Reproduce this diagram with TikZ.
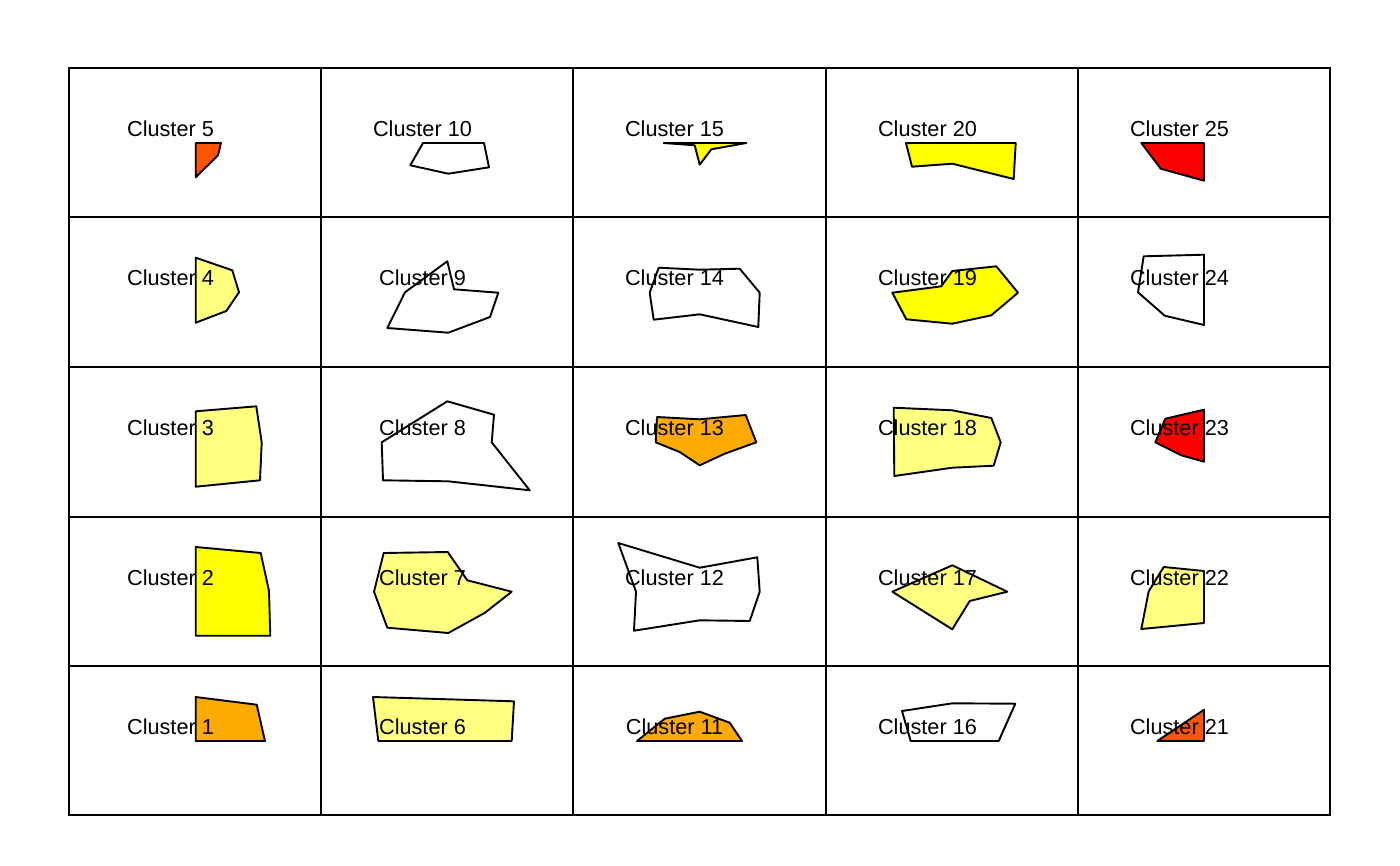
\documentclass[tikz,border=0pt]{standalone}
\usepackage{fontspec}
\setmainfont{Liberation Sans}
\definecolor{cRed}{HTML}{FF0000}
\definecolor{cRedOr}{HTML}{FF5500}
\definecolor{cOrange}{HTML}{FFAA00}
\definecolor{cYellow}{HTML}{FFFF00}
\definecolor{cLight}{HTML}{FFFF80}
\begin{document}
\begin{tikzpicture}[x=1pt,y=-1pt,
  gridline/.style={draw=black,line width=2pt},
  poly/.style={draw=black,line width=1.9pt,line join=round},
  lbl/.style={anchor=base,inner sep=0pt,font=\fontsize{21.7}{26}\selectfont}]
\useasboundingbox (0,0) rectangle (1400,865);
\fill[white] (0,0) rectangle (1400,865);
% polygons
\draw[poly,fill=cOrange] (195.7,697) -- (256.7,704.7) -- (265,741) -- (195.7,741) -- cycle;
\draw[poly,fill=cYellow] (195.7,547) -- (260.7,553) -- (269,591) -- (270.3,635.7) -- (195.7,635.7) -- cycle;
\draw[poly,fill=cLight] (195.7,411.3) -- (256.3,406.3) -- (261.7,442.3) -- (260,480.3) -- (195.7,486.7) -- cycle;
\draw[poly,fill=cLight] (195.7,257.7) -- (232.3,270.3) -- (239,292.3) -- (226.3,311) -- (195.7,322.7) -- cycle;
\draw[poly,fill=cRedOr] (195.7,143) -- (221,143) -- (218,155.3) -- (195.7,177.3) -- cycle;
\draw[poly,fill=cLight] (373,697) -- (514,701.3) -- (511.7,741) -- (378.3,741) -- cycle;
\draw[poly,fill=cLight] (383.7,553) -- (447.7,552) -- (467.3,580.3) -- (511.7,591.7) -- (485,612.7) -- (448.3,633) -- (387.3,627.7) -- (374,591.7) -- cycle;
\draw[poly,fill=white] (381.7,442.3) -- (447.3,401.3) -- (494,414.7) -- (491.7,442.3) -- (529.7,490.3) -- (448.3,481.3) -- (383,480.3) -- cycle;
\draw[poly,fill=white] (405,292.3) -- (447.3,261.3) -- (454,289.3) -- (498.3,292.7) -- (490,317) -- (448.3,332.7) -- (387.3,328) -- cycle;
\draw[poly,fill=white] (423,143) -- (484,143) -- (489,167.3) -- (448.3,173.7) -- (410.3,165.3) -- cycle;
\draw[poly,fill=cOrange] (637,741) -- (664.7,718.7) -- (699.7,711.7) -- (729.7,722.7) -- (742,741) -- cycle;
\draw[poly,fill=white] (618.3,543) -- (699.7,567.7) -- (757.3,557.3) -- (759.7,591.7) -- (749.7,621) -- (699.7,620.3) -- (634,630.7) -- (636,591.7) -- cycle;
\draw[poly,fill=cOrange] (657,417) -- (699.7,419.3) -- (745.7,415) -- (756.3,442.3) -- (724.7,453.7) -- (699.7,465.3) -- (679.7,452) -- (655.7,442.3) -- cycle;
\draw[poly,fill=white] (658.7,267.7) -- (699.7,269.7) -- (739.7,268.7) -- (759.7,292.7) -- (758.3,327) -- (699.7,314.3) -- (653.7,319.7) -- (649.7,292.7) -- cycle;
\draw[poly,fill=cYellow] (663.7,143) -- (746.3,143) -- (711.3,149.3) -- (699.7,164.7) -- (694.7,145.3) -- cycle;
\draw[poly,fill=white] (902,711) -- (952.3,703.3) -- (1015.3,703.7) -- (998.7,741) -- (910.7,741) -- cycle;
\draw[poly,fill=cLight] (952.3,565.3) -- (1007.3,591.7) -- (969.7,601) -- (952.3,629.3) -- (892.3,591.7) -- cycle;
\draw[poly,fill=cLight] (893.7,407.7) -- (952.3,410.3) -- (991.3,418) -- (1000.7,442.3) -- (993.7,465.7) -- (952.3,467.7) -- (894.3,476) -- cycle;
\draw[poly,fill=cYellow] (892.3,292.7) -- (941.3,286.3) -- (952.3,271) -- (996.3,266.3) -- (1018,292.7) -- (991.3,315.3) -- (952.3,323.7) -- (906.3,319.3) -- cycle;
\draw[poly,fill=cYellow] (906,143) -- (1015.7,143) -- (1013.7,179) -- (952.3,163.7) -- (912,166.7) -- cycle;
\draw[poly,fill=cRedOr] (1204,709.7) -- (1204,741) -- (1157.3,741) -- cycle;
\draw[poly,fill=cLight] (1163.7,567) -- (1204,571) -- (1204,623) -- (1141.3,629) -- (1148.7,591.3) -- cycle;
\draw[poly,fill=cRed] (1165.3,418.7) -- (1204,409.7) -- (1204,461.7) -- (1181.3,455.3) -- (1155.3,442.3) -- cycle;
\draw[poly,fill=white] (1143.7,256.3) -- (1204,254.7) -- (1204,325) -- (1164.7,315.7) -- (1138,292.3) -- cycle;
\draw[poly,fill=cRed] (1141.3,143) -- (1204,143) -- (1204,180.7) -- (1160.7,168.7) -- cycle;
% labels
\foreach \c [count=\ci from 0] in {69,321,573,826,1078}{
  \foreach \r [count=\ri from 0] in {666,517,367,217,68}{
    \pgfmathtruncatemacro{\n}{\ci*5+\ri+1}
    \node[lbl] (l\n) at (\c+101.5,\r+68.6) {Cluster \n};
  }
}
% grid
\draw[gridline] (69,68) rectangle (1330,815);
\foreach \x in {321,573,826,1078} \draw[gridline] (\x,68) -- (\x,815);
\foreach \y in {217,367,517,666} \draw[gridline] (69,\y) -- (1330,\y);
\end{tikzpicture}
\end{document}
